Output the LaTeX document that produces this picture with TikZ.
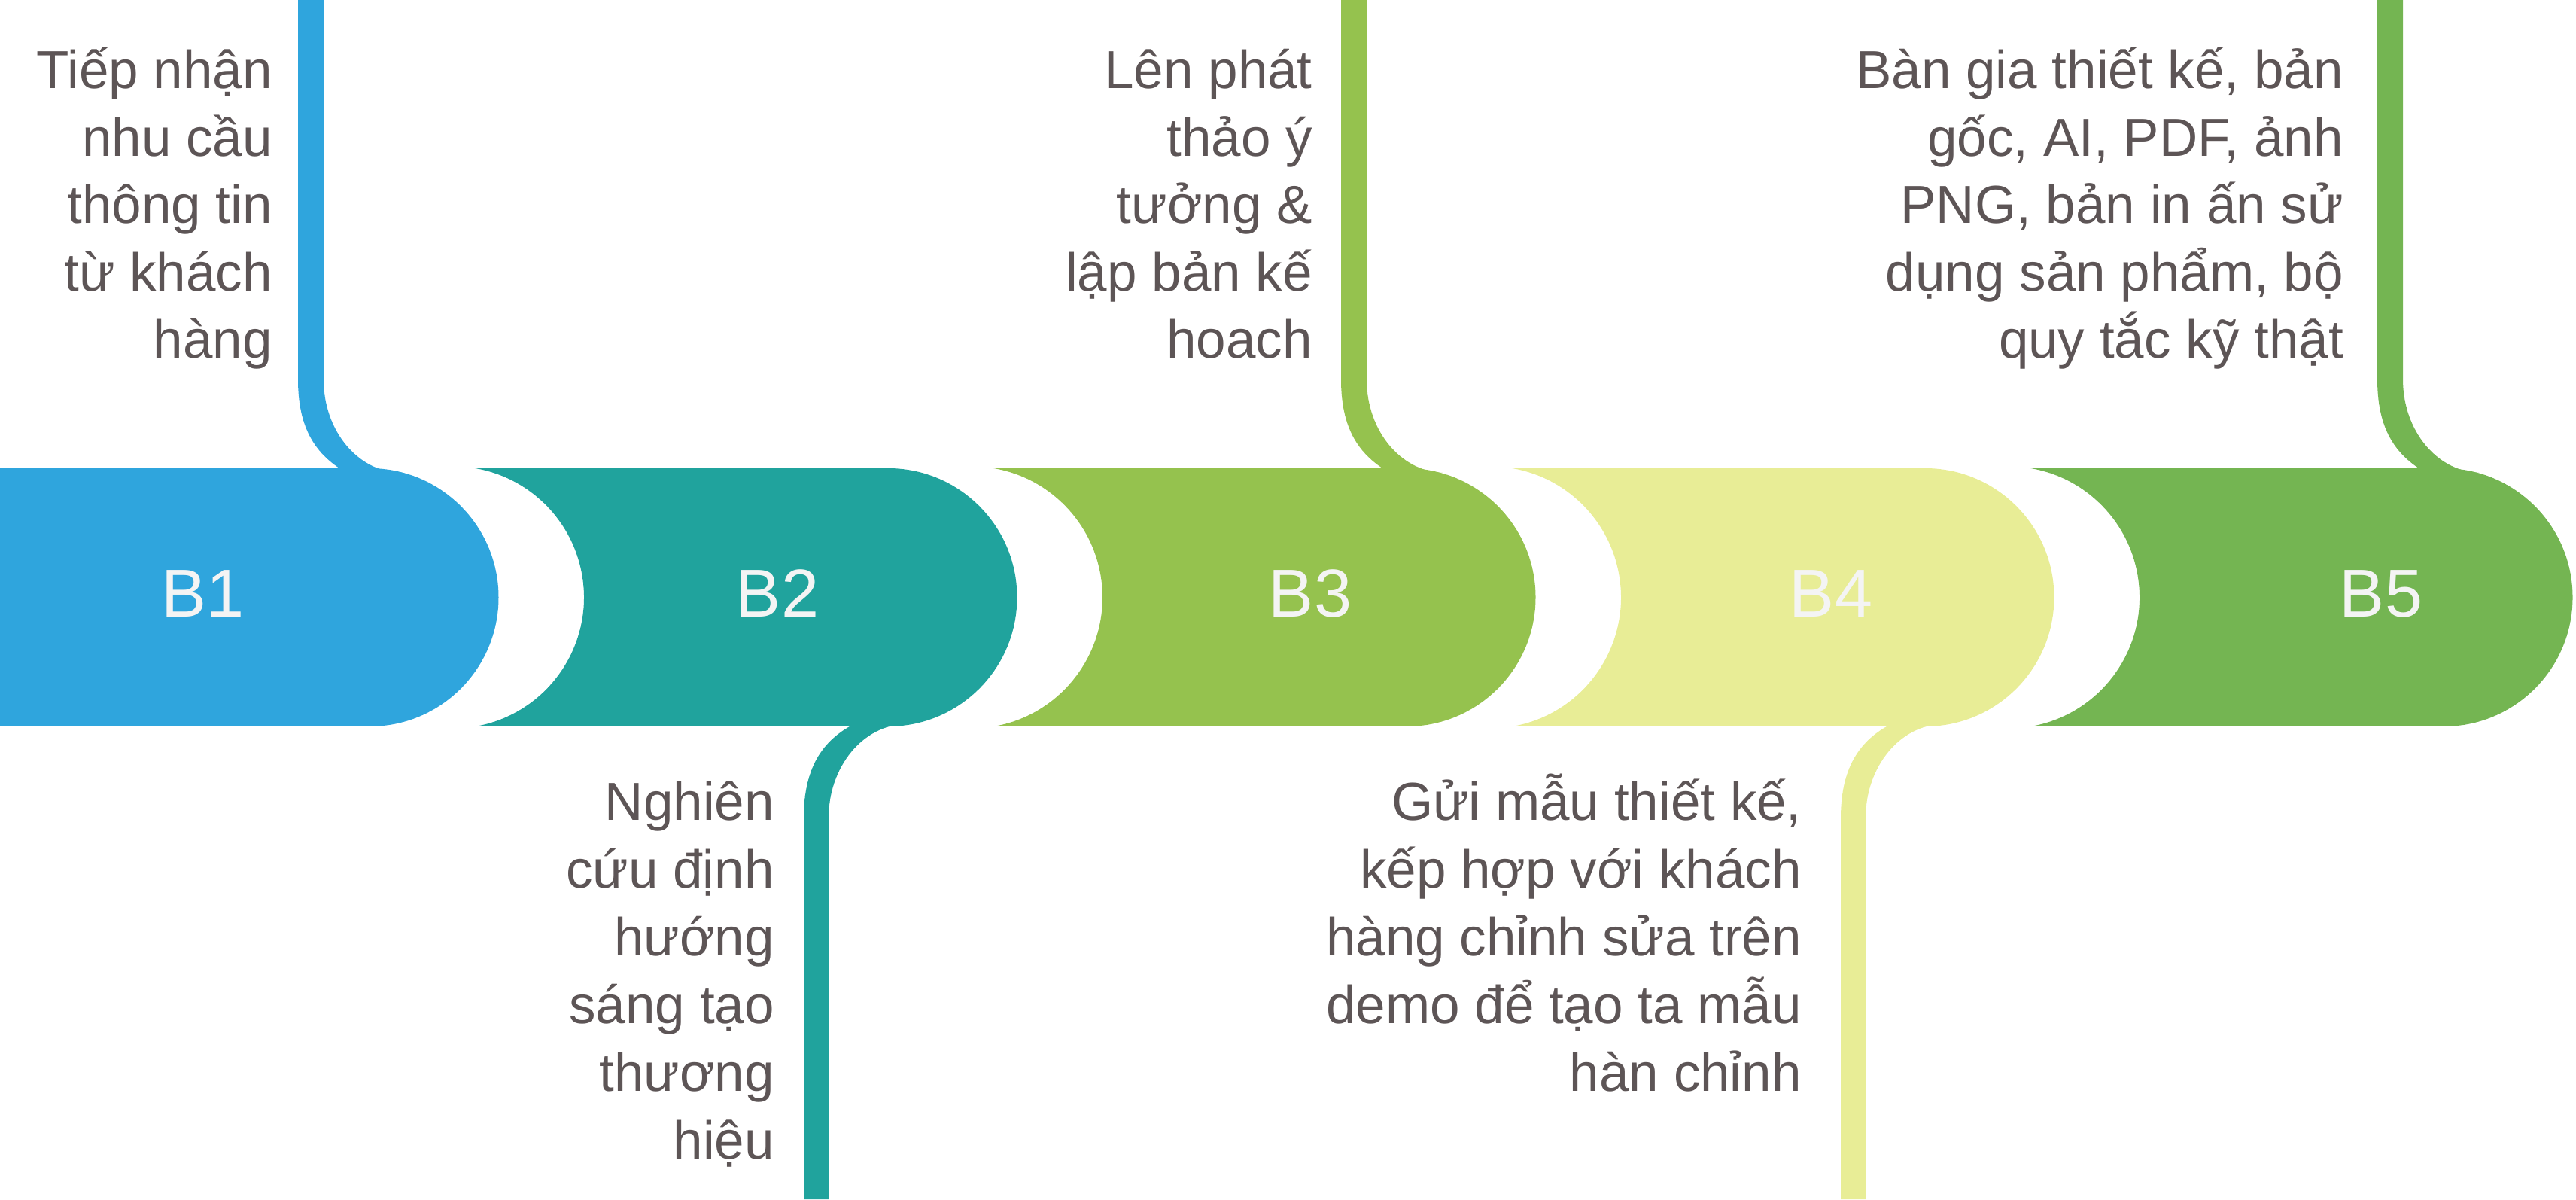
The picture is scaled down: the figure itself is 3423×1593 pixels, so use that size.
\documentclass[tikz,border=0pt]{standalone}
\usepackage{fontspec}
\setmainfont{Liberation Sans}
\definecolor{cBa}{HTML}{2FA5DD}
\definecolor{cBb}{HTML}{20A39D}
\definecolor{cBc}{HTML}{95C24E}
\definecolor{cBd}{HTML}{E8ED96}
\definecolor{cBe}{HTML}{74B552}
\definecolor{txtc}{HTML}{5D5556}
\definecolor{lblc}{HTML}{F4F4F4}
\begin{document}
\begin{tikzpicture}[x=1pt,y=1pt,
  txt/.style={text=txtc, inner sep=0pt, anchor=base east, font=\fontsize{71}{86}\selectfont},
  lbl/.style={text=lblc, inner sep=0pt, anchor=base, font=\fontsize{90}{110}\selectfont}]
\useasboundingbox (0,0) rectangle (3423,1593);
% bands
\fill[cBa] (0,628) -- (0,971) -- (491,971) arc[start angle=90,end angle=-90,radius=171.5] -- cycle;
\foreach \cc/\bc/\col in {602/1180/cBb, 1291/1869/cBc, 1980/2558/cBd, 2669/3247/cBe}{
  \fill[\col] ({\cc+29.4},971) -- (\bc,971) arc[start angle=90,end angle=-90,radius=171.5]
    -- ({\cc+29.4},628) arc[start angle=-80.27,end angle=80.27,radius=174] -- cycle;
}
% top connectors
\foreach \xl/\col in {396/cBa, 1782/cBc, 3159/cBe}{
  \fill[\col] (\xl,1593) -- (\xl,1089) .. controls (\xl,1030) and ({\xl+19},995) .. ({\xl+55},971)
    -- ({\xl+135},965) .. controls ({\xl+79},967) and ({\xl+34},1021) .. ({\xl+34},1089)
    -- ({\xl+34},1593) -- cycle;
}
% bottom connectors
\foreach \xl/\col in {1068/cBb, 2446/cBd}{
  \fill[\col] (\xl,0) -- (\xl,506) .. controls (\xl,565) and ({\xl+19},604) .. ({\xl+61},628)
    -- ({\xl+135},631) .. controls ({\xl+79},630) and ({\xl+33},575) .. ({\xl+33},506)
    -- ({\xl+33},0) -- cycle;
}
% labels
\node[lbl] (b1) at (270,773) {B1};
\node[lbl] (b2) at (1033,773) {B2};
\node[lbl] (b3) at (1741,773) {B3};
\node[lbl] (b4) at (2433,773) {B4};
\node[lbl] (b5) at (3164,773) {B5};
% texts
\foreach \s [count=\i from 0] in {Tiếp nhận, nhu cầu, thông tin, từ khách, hàng}
  \node[txt] (ta\i) at (362,{1475-89.5*\i}) {\s};
\foreach \s [count=\i from 0] in {Lên phát, thảo ý, tưởng \&, lập bản kế, hoach}
  \node[txt] (tc\i) at (1744,{1475-89.5*\i}) {\s};
\foreach \s [count=\i from 0] in {{Bàn gia thiết kế, bản}, {gốc, AI, PDF, ảnh}, {PNG, bản in ấn sử}, {dụng sản phẩm, bộ}, {quy tắc kỹ thật}}
  \node[txt] (te\i) at (3114,{1475-89.5*\i}) {\s};
\foreach \s [count=\i from 0] in {Nghiên, cứu định, hướng, sáng tạo, thương, hiệu}
  \node[txt] (tb\i) at (1029,{503-89.8*\i}) {\s};
\foreach \s [count=\i from 0] in {{Gửi mẫu thiết kế,}, {kếp hợp với khách}, {hàng chỉnh sửa trên}, {demo để tạo ta mẫu}, {hàn chỉnh}}
  \node[txt] (td\i) at (2394,{503-89.8*\i}) {\s};
\end{tikzpicture}
\end{document}
